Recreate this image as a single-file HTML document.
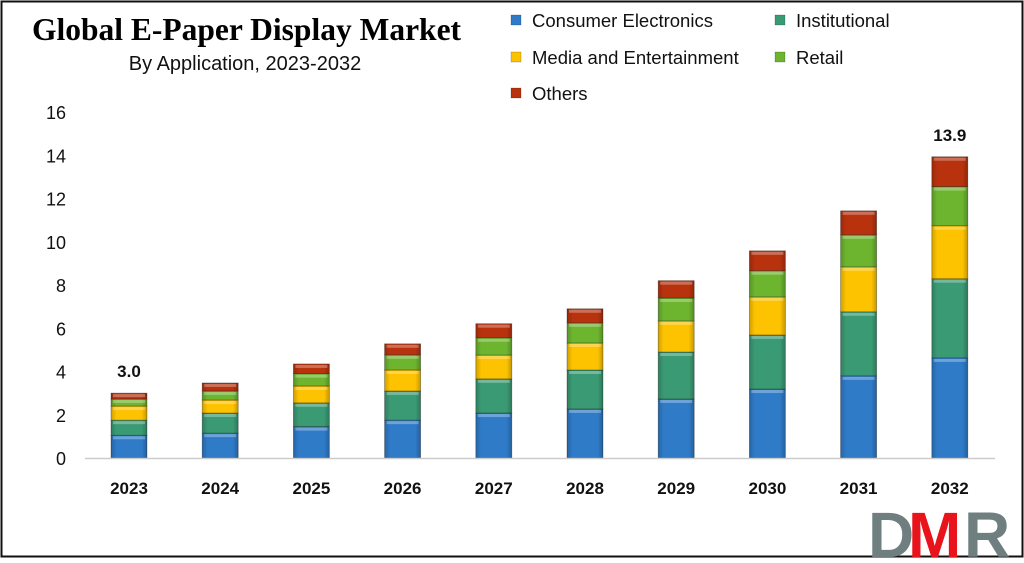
<!DOCTYPE html>
<html><head><meta charset="utf-8"><style>
body{margin:0;background:#fff}
svg text{font-family:"Liberation Sans",sans-serif}
</style></head><body>
<svg width="1024" height="558" viewBox="0 0 1024 558">
<defs>
<linearGradient id="sh" x1="0" x2="1" y1="0" y2="0"><stop offset="0" stop-color="#000" stop-opacity="0.18"/><stop offset="0.15" stop-color="#000" stop-opacity="0"/><stop offset="0.85" stop-color="#000" stop-opacity="0"/><stop offset="1" stop-color="#000" stop-opacity="0.22"/></linearGradient>
</defs>
<rect x="1.5" y="1.5" width="1021" height="555" fill="#fff" stroke="#111" stroke-width="2"/>
<text x="32" y="40" font-weight="bold" font-size="31.5" style="font-family:'Liberation Serif',serif">Global E-Paper Display Market</text>
<text x="245" y="70" text-anchor="middle" font-size="20" fill="#111">By Application, 2023-2032</text>
<g id="legend"></g>
<g id="yaxis"></g>
<g id="bars"></g>
<g id="xaxis"></g>
<g>
<text x="868" y="557" font-size="64" font-weight="bold" fill="#6f7f7f">D</text>
<text x="908" y="557" font-size="64" font-weight="bold" fill="#e8131b">M</text>
<text x="964" y="557" font-size="64" font-weight="bold" fill="#6f7f7f">R</text>
</g>
</svg>
<script>
const years=["2023","2024","2025","2026","2027","2028","2029","2030","2031","2032"];
const consumer=[1.05,1.15,1.45,1.75,2.08,2.27,2.73,3.19,3.8,4.63];
const institutional=[0.7,0.93,1.1,1.35,1.58,1.8,2.17,2.5,2.96,3.66];
const media=[0.65,0.6,0.78,0.97,1.1,1.25,1.44,1.76,2.08,2.45];
const retail=[0.33,0.42,0.57,0.7,0.8,0.93,1.06,1.21,1.48,1.81];
const others=[0.27,0.37,0.45,0.51,0.65,0.65,0.8,0.92,1.11,1.38];
const yTicks=[0,2,4,6,8,10,12,14,16];
const totalLabels={"2023":"3.0","2032":"13.9"};
const seriesNames=["Consumer Electronics","Institutional","Media and Entertainment","Retail","Others"];
const series=[consumer,institutional,media,retail,others];
const colors=["#2f7bc8","#3a9a74","#fdc300","#6db42f","#b8320e"];
const NS="http://www.w3.org/2000/svg";
function mk(t,a,p){const e=document.createElementNS(NS,t);for(const k in a)e.setAttribute(k,a[k]);p.appendChild(e);return e;}
const y0=458,pxu=21.625;
function ys(v){return y0-v*pxu;}
function xs(i){return 129+i*91.2;}
const ya=document.getElementById('yaxis');
yTicks.forEach(t=>{const e=mk('text',{x:66,y:ys(t)+7,'text-anchor':'end','font-size':18,fill:'#111'},ya);e.textContent=t;

});
const xa=document.getElementById('xaxis');
const ax=mk('line',{x1:85,x2:995,y1:y0+0.5,y2:y0+0.5,stroke:'#ccc','stroke-width':1.5},xa);


const bg=document.getElementById('bars');
years.forEach((yr,i)=>{
 const l=mk('text',{x:xs(i),y:494,'text-anchor':'middle','font-size':17,'font-weight':'bold',fill:'#111'},xa);l.textContent=yr;
 
 
 let cum=0;
 series.forEach((s,j)=>{const v=s[i];const top=ys(cum+v),bot=ys(cum);
  const r=mk('rect',{x:xs(i)-18,y:top,width:36,height:bot-top,fill:colors[j],stroke:'rgba(0,0,0,0.35)','stroke-width':0.8},bg);
  
  
  const sh=mk('rect',{x:xs(i)-18,y:top,width:36,height:bot-top,fill:'url(#sh)'},bg);
  
  
  const hl=mk('rect',{x:xs(i)-16,y:top+1,width:32,height:Math.min(3,bot-top-1),fill:'#fff',opacity:0.3},bg);
  
  
  cum+=v;});
 if(totalLabels[yr]){const t=mk('text',{x:xs(i),y:ys(cum)-16,'text-anchor':'middle','font-size':17,'font-weight':'bold',fill:'#111'},bg);t.textContent=totalLabels[yr];
  
  }
});
const lg=document.getElementById('legend');
const lpos=[[516,20],[780,20],[516,57],[780,57],[516,93]];
seriesNames.forEach((n,j)=>{const [x,y]=lpos[j];
 const r=mk('rect',{x:x-5,y:y-5,width:10,height:10,fill:colors[j],stroke:'rgba(0,0,0,0.3)','stroke-width':0.6},lg);
 
 
 const t=mk('text',{x:x+16,y:y+7,'font-size':18.5,fill:'#111'},lg);t.textContent=n;
 
 });
</script>
</body></html>
